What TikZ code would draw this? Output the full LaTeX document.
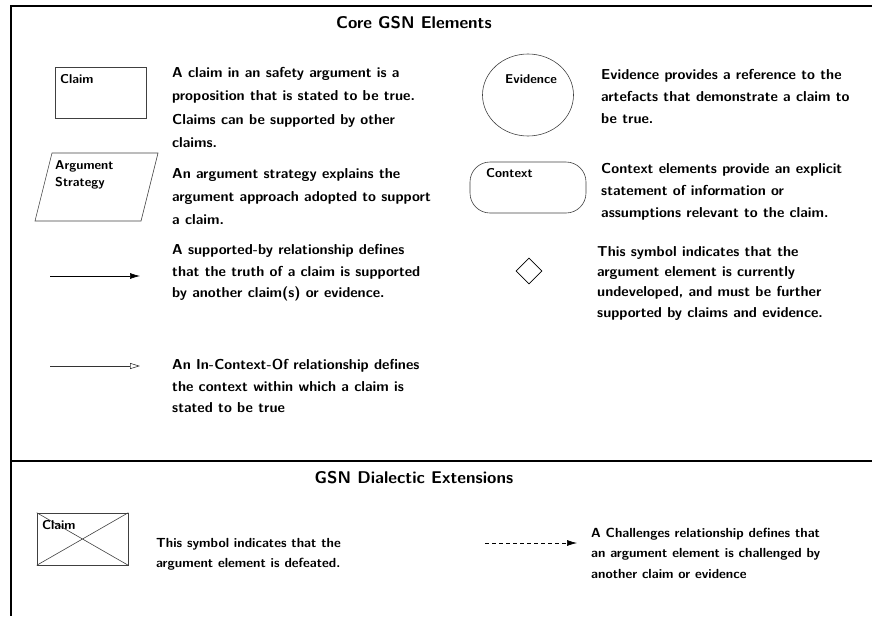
\documentclass[tikz,border=0pt]{standalone}
\usetikzlibrary{arrows.meta,shapes.geometric}
\newcommand\myfs[2]{\fontsize{#1}{#2}\selectfont}
\begin{document}
\begin{tikzpicture}[x=1pt,y=-1pt,
  frame/.style={line width=2pt,black},
  shp/.style={draw=black!75,line width=0.6pt,inner sep=0pt},
  lbl/.style={font=\sffamily\bfseries\myfs{12.8}{17.5},anchor=north west,inner sep=0pt,align=left},
  desc/.style={anchor=north west,inner sep=0pt,align=left,font=\sffamily\bfseries\myfs{14.4}{#1}},
  descb/.style={anchor=north west,inner sep=0pt,align=left,font=\sffamily\bfseries\myfs{13.2}{#1}},
  ttl/.style={font=\sffamily\bfseries\myfs{17}{20},inner sep=0pt},
  supp/.style={line width=0.6pt,-{Latex[length=10pt,width=6pt]}},
  ctxarr/.style={line width=0.6pt,black!80,-{Triangle[open,length=10pt,width=6pt]}},
  chal/.style={line width=0.6pt,dash pattern=on 4pt off 3pt,-{Latex[length=10pt,width=6pt]}}
]
\useasboundingbox (0,0) rectangle (872,616);
% frame
\coordinate (ftl) at (11,6);
\coordinate (ftr) at (872,6);
\coordinate (fbl) at (11,616);
\coordinate (fml) at (11,461);
\coordinate (fmr) at (872,461);
\draw[frame] (ftr) -- (ftl) -- (fbl);
\draw[frame] (fml) -- (fmr);
% titles
\node[ttl] (t1) at (414,23) {Core GSN Elements};
\node[ttl] (t2) at (414,478) {GSN Dialectic Extensions};
% claim
\node[shp,rectangle,minimum width=91pt,minimum height=51pt] (claim) at (100.5,92.5) {};
\node[lbl] (claiml) at (60,74) {Claim};
\node[desc=23.5] (claimd) at (172,67) {A claim in an safety argument is a\\proposition that is stated to be true.\\Claims can be supported by other\\claims.};
% strategy
\draw[shp] (52,153) -- (158,153) -- (141,221) -- (35,221) -- cycle;
\node[lbl] (strl) at (55,160) {Argument\\Strategy};
\node[desc=23] (strd) at (172,168) {An argument strategy explains the\\argument approach adopted to support\\a claim.};
% supported by
\coordinate (sa) at (50,276);
\coordinate (sb) at (140,276);
\draw[supp] (sa) -- (sb);
\node[desc=21.7] (suppd) at (172,244) {A supported-by relationship defines\\that the truth of a claim is supported\\by another claim(s) or evidence.};
% in context of
\coordinate (ca) at (50,366);
\coordinate (cb) at (140,366);
\draw[ctxarr] (ca) -- (cb);
\node[desc=21.5] (ctxad) at (172,359) {An In-Context-Of relationship defines\\the context within which a claim is\\stated to be true};
% evidence
\node[shp,ellipse,minimum width=91pt,minimum height=82pt] (ev) at (528,95) {};
\node[lbl] (evl) at (505,74) {Evidence};
\node[desc=22.2] (evd) at (601,69) {Evidence provides a reference to the\\artefacts that demonstrate a claim to\\be true.};
% context
\node[shp,rectangle,rounded corners=20pt,minimum width=116pt,minimum height=51pt] (ctx) at (528,187.5) {};
\node[lbl] (ctxl) at (486,168) {Context};
\node[desc=22.2] (ctxd) at (601,163) {Context elements provide an explicit\\statement of information or\\assumptions relevant to the claim.};
% undeveloped
\node[draw=black,line width=0.6pt,diamond,minimum width=26pt,minimum height=26pt,inner sep=0pt] (und) at (529,271) {};
\node[desc=20.3] (undd) at (597,246) {This symbol indicates that the\\argument element is currently\\undeveloped, and must be further\\supported by claims and evidence.};
% defeated
\node[shp,rectangle,minimum width=91pt,minimum height=52pt] (def) at (82.5,539) {};
\draw[shp] (def.north west) -- (def.south east);
\draw[shp] (def.south west) -- (def.north east);
\node[lbl] (defl) at (42,520) {Claim};
\node[descb=20] (defd) at (156,538) {This symbol indicates that the\\argument element is defeated.};
% challenges
\coordinate (da) at (485,543);
\coordinate (db) at (577,543);
\draw[chal] (da) -- (db);
\node[descb=20.3] (chald) at (591,528) {A Challenges relationship defines that\\an argument element is challenged by\\another claim or evidence};
\end{tikzpicture}
\end{document}
